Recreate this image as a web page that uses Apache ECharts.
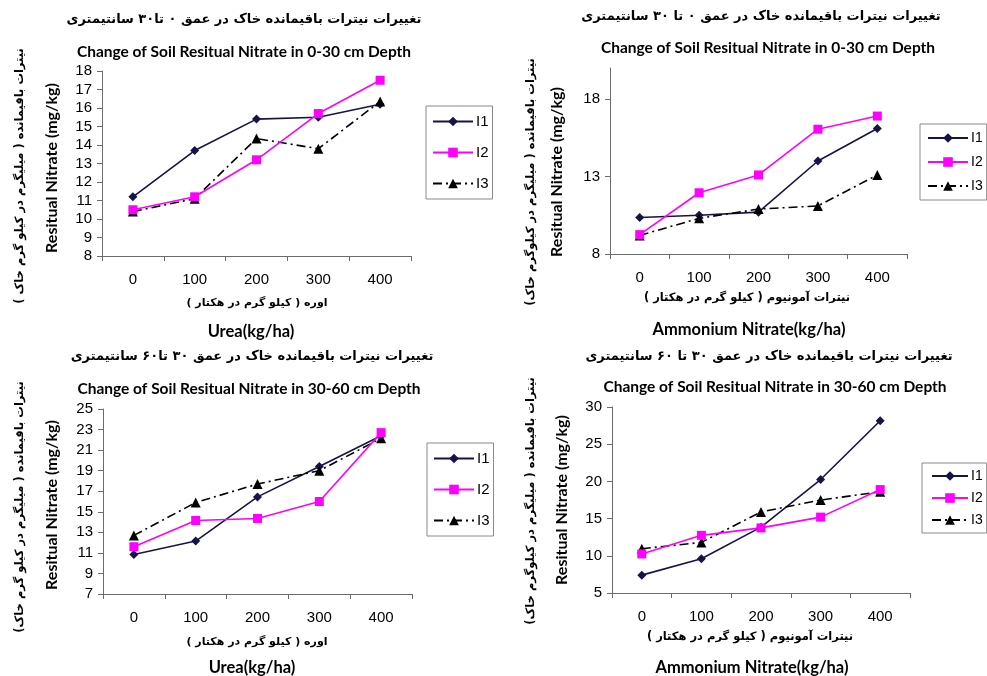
<!DOCTYPE html>
<html>
<head>
<meta charset="utf-8">
<script src="https://cdn.jsdelivr.net/npm/echarts@6/dist/echarts.min.js"></script>
<style>
html,body{margin:0;padding:0;background:#fff;}
#c{width:987px;height:676px;}
</style>
</head>
<body>
<div id="c"></div>
<script>
// ---- data ----
const categories = ['0', '100', '200', '300', '400'];
const seriesNames = ['I1', 'I2', 'I3'];

// Urea, 0-30 cm
const urea030_I1 = [11.2, 13.7, 15.4, 15.5, 16.2];
const urea030_I2 = [10.5, 11.2, 13.2, 15.7, 17.5];
const urea030_I3 = [10.4, 11.1, 14.35, 13.8, 16.35];

// Ammonium nitrate, 0-30 cm
const amm030_I1 = [10.35, 10.5, 10.7, 14.0, 16.1];
const amm030_I2 = [9.25, 11.95, 13.1, 16.05, 16.9];
const amm030_I3 = [9.2, 10.3, 10.9, 11.1, 13.1];

// Urea, 30-60 cm
const urea3060_I1 = [10.85, 12.15, 16.45, 19.4, 22.4];
const urea3060_I2 = [11.6, 14.15, 14.35, 16.0, 22.7];
const urea3060_I3 = [12.7, 15.9, 17.7, 19.0, 22.15];

// Ammonium nitrate, 30-60 cm
const amm3060_I1 = [7.4, 9.6, 13.85, 20.25, 28.15];
const amm3060_I2 = [10.25, 12.75, 13.75, 15.2, 18.9];
const amm3060_I3 = [10.95, 11.8, 15.9, 17.5, 18.6];

// axis tick labels
const yTicks1 = [8, 9, 10, 11, 12, 13, 14, 15, 16, 17, 18];
const yTicks2 = [8, 13, 18];
const yTicks3 = [7, 9, 11, 13, 15, 17, 19, 21, 23, 25];
const yTicks4 = [5, 10, 15, 20, 25, 30];

// texts
const RLM = '\u200F';
const faTitles = [
  'تغییرات نیترات باقیمانده خاک در عمق ۰ تا۳۰ سانتیمتری',
  'تغییرات نیترات باقیمانده خاک در عمق ۰ تا ۳۰ سانتیمتری',
  'تغییرات نیترات باقیمانده خاک در عمق ۳۰ تا۶۰ سانتیمتری',
  'تغییرات نیترات باقیمانده خاک در عمق ۳۰ تا ۶۰ سانتیمتری'
];
const enTitles = [
  'Change of Soil Resitual Nitrate in 0-30 cm Depth',
  'Change of Soil Resitual Nitrate in 0-30 cm Depth',
  'Change of Soil Resitual Nitrate in 30-60 cm Depth',
  'Change of Soil Resitual Nitrate in 30-60 cm Depth'
];
const faYNames = [
  'نیترات باقیمانده ( میلیگرم در کیلو گرم خاک )',
  'نیترات باقیمانده ( میلیگرم در کیلوگرم خاک)',
  'نیترات باقیمانده ( میلیگرم در کیلو گرم خاک)',
  'نیترات باقیمانده ( میلیگرم در کیلوگرم خاک)'
];
const enYName = 'Resitual Nitrate (mg/kg)';
const faXNames = [
  'اوره ( کیلو گرم در هکتار )',
  'نیترات آمونیوم ( کیلو گرم در هکتار )',
  'اوره ( کیلو گرم در هکتار )',
  'نیترات آمونیوم ( کیلو گرم در هکتار )'
];
const enXNames = ['Urea(kg/ha)', 'Ammonium Nitrate(kg/ha)', 'Urea(kg/ha)', 'Ammonium Nitrate(kg/ha)'];

// ---- layout ----
const panels = [
  {grid: {left: 102, top: 71, width: 309, height: 185}, y: {min: 8, max: 18, ticks: yTicks1},
   data: [urea030_I1, urea030_I2, urea030_I3],
   faT: [244, 20], enT: [244, 52], faY: [20, 176], enY: [52, 168], faX: [257, 303], enX: [251, 332],
   faYs: 11.5, faXs: 11,
   legend: {left: 426, top: 106, gap: 16, pad: [8, 4, 8, 6], w: 40, fs: 15}},
  {grid: {left: 610, top: 68, width: 297, height: 186}, y: {min: 8, max: 20, ticks: yTicks2},
   data: [amm030_I1, amm030_I2, amm030_I3],
   faT: [761, 17], enT: [768, 48], faY: [531, 182], enY: [557, 172], faX: [747, 298], enX: [749, 330],
   faYs: 11.5, faXs: 11.5,
   legend: {left: 920, top: 124, gap: 10, pad: [7, 4, 7, 7], w: 40, fs: 14}},
  {grid: {left: 103, top: 409, width: 309, height: 185}, y: {min: 7, max: 25, ticks: yTicks3},
   data: [urea3060_I1, urea3060_I2, urea3060_I3],
   faT: [252, 357], enT: [249, 389], faY: [20, 507], enY: [52, 505], faX: [257, 642], enX: [252, 668],
   faYs: 11.5, faXs: 11,
   legend: {left: 427, top: 443, gap: 16, pad: [8, 4, 8, 6], w: 40, fs: 15}},
  {grid: {left: 612, top: 407, width: 298, height: 186}, y: {min: 5, max: 30, ticks: yTicks4},
   data: [amm3060_I1, amm3060_I2, amm3060_I3],
   faT: [769, 357], enT: [775, 387], faY: [531, 501], enY: [562, 500], faX: [750, 637], enX: [752, 668],
   faYs: 11.5, faXs: 11.5,
   legend: {left: 922, top: 463, gap: 8, pad: [6, 4, 6, 9], w: 36, fs: 14}}
];

const styles = [
  {color: '#14144a', symbol: 'diamond', size: 9, type: 'solid'},
  {color: '#ff00ff', symbol: 'rect', size: 9, type: 'solid'},
  {color: '#000000', symbol: 'triangle', size: 10, type: [9, 4, 2, 4]}
];

const axisColor = '#6b6b6b';
const labelFont = 'Liberation Sans, Arial, sans-serif';
const enFont = 'Lato, Open Sans, sans-serif';
const faFont = 'DejaVu Sans, sans-serif';

const grids = [], xAxes = [], yAxes = [], series = [], legends = [], graphics = [];

panels.forEach((p, i) => {
  grids.push(Object.assign({containLabel: false}, p.grid));
  xAxes.push({
    type: 'category', gridIndex: i, data: categories, boundaryGap: true,
    axisLine: {lineStyle: {color: axisColor, width: 1}},
    axisTick: {show: true, length: 5, lineStyle: {color: axisColor}},
    axisLabel: {color: '#000', fontSize: 15, fontFamily: labelFont, margin: 16},
    splitLine: {show: false}
  });
  yAxes.push({
    type: 'value', gridIndex: i, min: p.y.min, max: p.y.max,
    axisLine: {show: true, lineStyle: {color: axisColor, width: 1}},
    axisTick: {show: true, length: 5, lineStyle: {color: axisColor}, customValues: p.y.ticks},
    axisLabel: {color: '#000', fontSize: 15, fontFamily: labelFont, margin: 10, customValues: p.y.ticks},
    splitLine: {show: false}
  });
  p.data.forEach((d, k) => {
    const s = styles[k];
    series.push({
      type: 'line', name: seriesNames[k], xAxisIndex: i, yAxisIndex: i, data: d,
      symbol: s.symbol, symbolSize: s.size, showSymbol: true,
      lineStyle: {color: s.color, width: 1.6, type: s.type},
      itemStyle: {color: s.color, borderWidth: 0},
      z: 2 + (k === 1 ? 1 : 0),
      animation: false
    });
  });
  legends.push({
    data: seriesNames, orient: 'vertical', left: p.legend.left, top: p.legend.top,
    itemWidth: p.legend.w, itemHeight: 12, itemGap: p.legend.gap,
    padding: p.legend.pad, borderColor: '#8a8a8a', borderWidth: 1, backgroundColor: '#fff',
    selectedMode: false,
    textStyle: {fontSize: p.legend.fs, fontFamily: labelFont, color: '#000', padding: [0, 0, 0, -2]}
  });
  const txt = (x, y, text, font, size, rot) => ({
    type: 'text', x: x, y: y, rotation: rot ? Math.PI / 2 : 0,
    style: {text: text, font: 'bold ' + size + 'px ' + font, fill: '#000', textAlign: 'center', textVerticalAlign: 'middle'},
    silent: true
  });
  graphics.push(txt(p.faT[0], p.faT[1], RLM + faTitles[i] + RLM, faFont, 13, false));
  graphics.push(txt(p.enT[0], p.enT[1], enTitles[i], enFont, 15.5, false));
  graphics.push(txt(p.faY[0], p.faY[1], RLM + faYNames[i] + RLM, faFont, p.faYs, true));
  graphics.push(txt(p.enY[0], p.enY[1], enYName, enFont, 16, true));
  graphics.push(txt(p.faX[0], p.faX[1], RLM + faXNames[i] + RLM, faFont, p.faXs, false));
  graphics.push(txt(p.enX[0], p.enX[1], enXNames[i], enFont, 16.5, false));
});

const chart = echarts.init(document.getElementById('c'), null, {renderer: 'canvas'});
chart.setOption({
  backgroundColor: '#fff',
  animation: false,
  grid: grids,
  xAxis: xAxes,
  yAxis: yAxes,
  series: series,
  legend: legends,
  graphic: graphics
});
</script>
</body>
</html>
